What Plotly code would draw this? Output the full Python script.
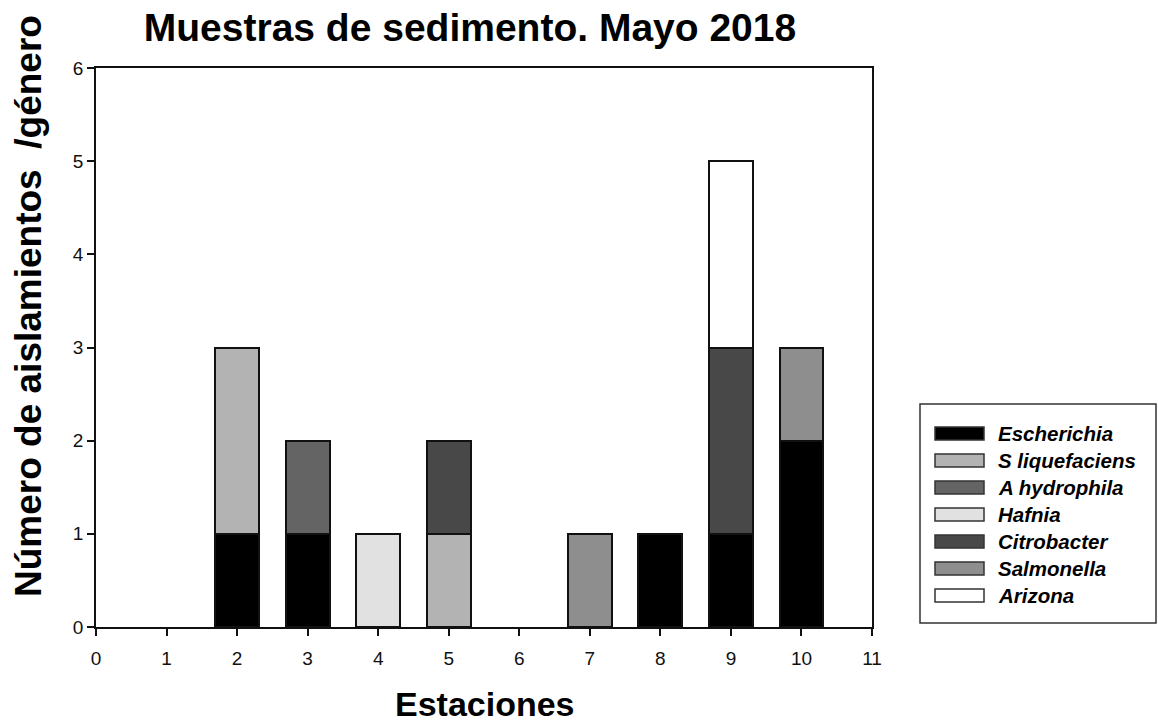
import plotly.graph_objects as go

# Stations (x axis) and isolate counts per genus
stations = [2, 3, 4, 5, 7, 8, 9, 10]
genera = ["Escherichia", "S liquefaciens", "A hydrophila", "Hafnia",
          "Citrobacter", "Salmonella", "Arizona"]
escherichia    = [1, 1, 0, 0, 0, 1, 1, 2]
s_liquefaciens = [2, 0, 0, 1, 0, 0, 0, 0]
a_hydrophila   = [0, 1, 0, 0, 0, 0, 0, 0]
hafnia         = [0, 0, 1, 0, 0, 0, 0, 0]
citrobacter    = [0, 0, 0, 1, 0, 0, 2, 0]
salmonella     = [0, 0, 0, 0, 1, 0, 0, 1]
arizona        = [0, 0, 0, 0, 0, 0, 2, 0]
series = [escherichia, s_liquefaciens, a_hydrophila, hafnia,
          citrobacter, salmonella, arizona]
colors = ["#000000", "#b3b3b3", "#646464", "#e1e1e1",
          "#484848", "#8e8e8e", "#ffffff"]
x_ticks = list(range(0, 12))
y_ticks = list(range(0, 7))

FONT = "Liberation Sans, Arial, sans-serif"

fig = go.Figure()
for name, vals, col in zip(genera, series, colors):
    xs = [s for s, v in zip(stations, vals) if v > 0]
    ys = [v for v in vals if v > 0]
    fig.add_trace(go.Bar(
        x=xs, y=ys, name=name, width=0.62,
        marker=dict(color=col, line=dict(color="#111111", width=2)),
        showlegend=False,
    ))

axis_common = dict(
    showgrid=False, zeroline=False, showline=True, linecolor="#111111",
    linewidth=1.8, mirror=True, ticks="outside", ticklen=7,
    tickcolor="#111111", tickwidth=1.8,
    tickfont=dict(family=FONT, size=19, color="#111111"),
)
fig.update_xaxes(range=[0, 11], tickvals=x_ticks, ticklabelstandoff=6,
                 **axis_common)
fig.update_yaxes(range=[0, 6], tickvals=y_ticks, **axis_common)

L, R, T, B = 96, 286, 68, 98
W, H = 1158, 725
pw, ph = W - L - R, H - T - B


def px(xp):
    return (xp - L) / pw


def py(yp):
    return (H - B - yp) / ph


annotations = [
    dict(text="<b>Número de aislamientos  /género</b>",
         x=px(28), y=py(306), xref="paper", yref="paper",
         textangle=-90, showarrow=False, xanchor="center", yanchor="middle",
         font=dict(family=FONT, size=37, color="#000000")),
    dict(text="<b>Estaciones</b>", x=px(485), y=py(704),
         xref="paper", yref="paper", showarrow=False,
         xanchor="center", yanchor="middle",
         font=dict(family=FONT, size=34, color="#000000")),
]

# Hand-built legend box with wide swatches
shapes = [dict(type="rect", xref="paper", yref="paper",
               x0=px(920), x1=px(1156), y0=py(623), y1=py(404),
               line=dict(color="#333333", width=1.5), fillcolor="white")]
row0, step = 433.5, 27.0
for i, (name, col) in enumerate(zip(genera, colors)):
    cy = row0 + i * step
    shapes.append(dict(type="rect", xref="paper", yref="paper",
                       x0=px(935), x1=px(984), y0=py(cy + 6.5), y1=py(cy - 6.5),
                       line=dict(color="#333333", width=1.5), fillcolor=col))
    annotations.append(dict(text=f"<b><i>{name}</i></b>", x=px(996), y=py(cy),
                            xref="paper", yref="paper", showarrow=False,
                            xanchor="left", yanchor="middle",
                            font=dict(family=FONT, size=20.5, color="#000000")))

fig.update_layout(
    width=W, height=H,
    margin=dict(l=L, r=R, t=T, b=B),
    barmode="stack", bargap=0,
    plot_bgcolor="white", paper_bgcolor="white",
    title=dict(text="<b>Muestras de sedimento. Mayo 2018</b>",
               x=470 / W, y=1 - 27 / H, xanchor="center", yanchor="middle",
               xref="container",
               font=dict(family=FONT, size=39, color="#000000")),
    annotations=annotations, shapes=shapes,
)

fig.write_html("out.html")
